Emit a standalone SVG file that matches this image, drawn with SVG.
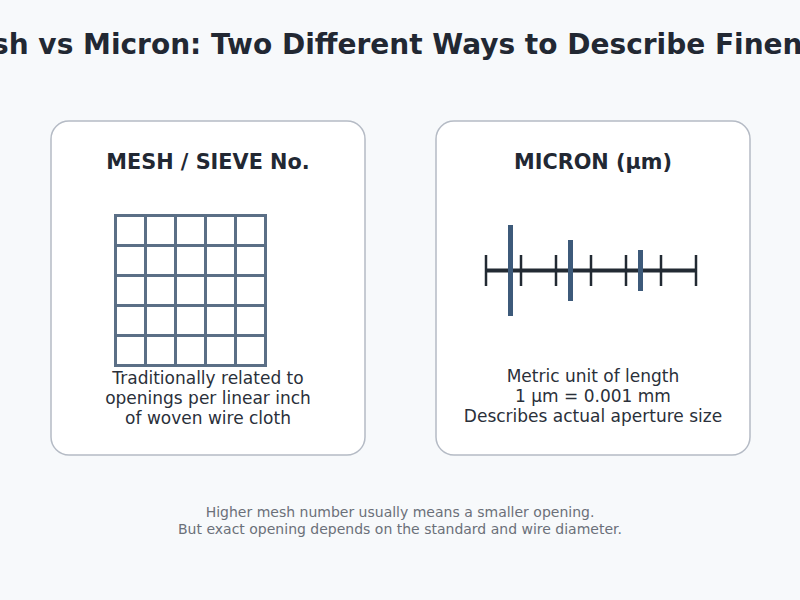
<svg xmlns="http://www.w3.org/2000/svg" width="800" height="600" viewBox="0 0 800 600">
<style>
.card{fill:#ffffff;stroke:#b5bbc5;stroke-width:1.5}
.t{font-family:"DejaVu Sans",sans-serif;text-anchor:middle}
.title{font-size:28px;font-weight:bold;fill:#222833}
.h{font-size:20.8px;font-weight:bold;fill:#222833}
.b{font-size:17px;fill:#2a303a}
.f{font-size:14px;fill:#6b7079}
.grid{fill:none;stroke:#5b6f86;stroke-width:3}
.axis{stroke:#222a33;stroke-width:4}
.tick{stroke:#222a33;stroke-width:2.5}
.bar{fill:#3d5a7a}
</style>
<rect width="800" height="600" fill="#f7f9fb"/>
<text class="t title" x="400" y="54">Mesh vs Micron: Two Different Ways to Describe Fineness</text>
<g id="mesh">
<rect class="card" x="51" y="121" width="314" height="334" rx="18"/>
<text class="t h" x="208" y="169">MESH / SIEVE No.</text>
<g class="grid">
<rect x="115.5" y="215.5" width="150" height="150"/>
<path d="M145.5 215.5V365.5M175.5 215.5V365.5M205.5 215.5V365.5M235.5 215.5V365.5M115.5 245.5H265.5M115.5 275.5H265.5M115.5 305.5H265.5M115.5 335.5H265.5"/>
</g>
<text class="t b" x="208" y="384">Traditionally related to</text>
<text class="t b" x="208" y="404">openings per linear inch</text>
<text class="t b" x="208" y="424">of woven wire cloth</text>
</g>
<g id="micron">
<rect class="card" x="436" y="121" width="314" height="334" rx="18"/>
<text class="t h" x="593" y="169">MICRON (µm)</text>
<line class="axis" x1="486" y1="270.5" x2="696" y2="270.5"/>
<g class="tick">
<line x1="486" y1="255" x2="486" y2="286"/>
<line x1="521" y1="255" x2="521" y2="286"/>
<line x1="556" y1="255" x2="556" y2="286"/>
<line x1="591" y1="255" x2="591" y2="286"/>
<line x1="626" y1="255" x2="626" y2="286"/>
<line x1="661" y1="255" x2="661" y2="286"/>
<line x1="696" y1="255" x2="696" y2="286"/>
</g>
<rect class="bar" x="508" y="225" width="5" height="91"/>
<rect class="bar" x="568" y="240" width="5" height="61"/>
<rect class="bar" x="638" y="250" width="5" height="41"/>
<text class="t b" x="593" y="382">Metric unit of length</text>
<text class="t b" x="593" y="402">1 µm = 0.001 mm</text>
<text class="t b" x="593" y="422">Describes actual aperture size</text>
</g>
<g id="footer">
<text class="t f" x="400" y="517">Higher mesh number usually means a smaller opening.</text>
<text class="t f" x="400" y="534">But exact opening depends on the standard and wire diameter.</text>
</g>
</svg>
